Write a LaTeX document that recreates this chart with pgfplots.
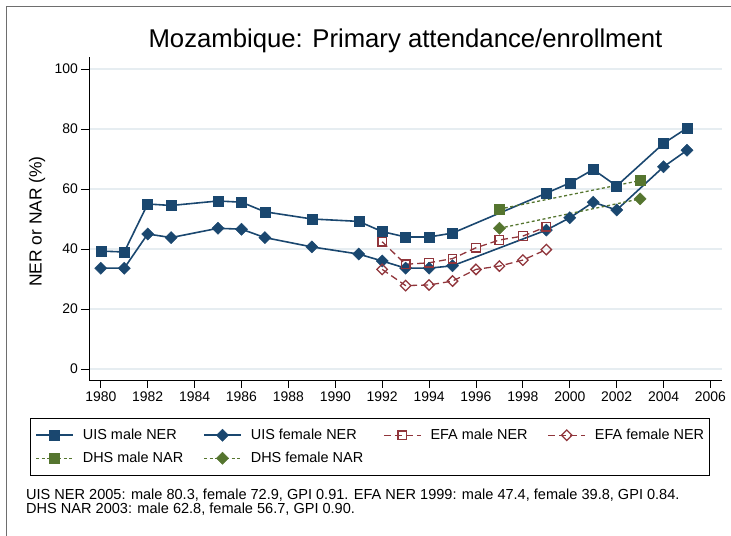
\documentclass[border=0pt]{standalone}
\usepackage{fontspec}
\setmainfont{Liberation Sans}
\usepackage{pgfplots}
\pgfplotsset{compat=1.18}
\definecolor{snavy}{RGB}{26,71,111}
\definecolor{smaroon}{RGB}{144,53,59}
\definecolor{sgreen}{RGB}{85,117,47}
\definecolor{sgrid}{RGB}{230,237,241}
\definecolor{sframe}{RGB}{110,110,110}
\begin{document}
\begin{tikzpicture}[x=1bp,y=1bp]
\useasboundingbox (0,0) rectangle (731,536);
\draw[sframe, line width=0.9bp] (6,0) -- (6,530) -- (731,530);
\begin{axis}[
  at={(89.3bp,156bp)}, anchor=south west,
  width=632.4bp, height=323.3bp, scale only axis,
  xmin=1979.51, xmax=2006.48, ymin=-3.67, ymax=104.1,
  axis x line=bottom, axis y line=left,
  axis line style={-, black, line width=0.8bp},
  tick align=outside, major tick length=8bp,
  tick style={black, line width=0.8bp},
  xtick={1980,1982,...,2006}, ytick={0,20,...,100},
  ymajorgrids, major grid style={sgrid, line width=1.1bp},
  /pgf/number format/.cd, assume math mode=true, 1000 sep={},
  /pgfplots/.cd,
  tick label style={font=\fontsize{14}{14}\selectfont},
  ylabel={NER or NAR (\%)},
  ylabel style={at={(axis description cs:-0.0827,0.49)}, anchor=center, font=\fontsize{17.5}{17.5}\selectfont},
  legend columns=4,
  legend cell align=left,
  legend style={at={(axis description cs:-0.0938,-0.1175)}, anchor=north west,
    draw=black, line width=0.6bp,
    font=\fontsize{14.5}{14.5}\selectfont,
    inner xsep=5bp, inner ysep=10bp, row sep=9bp,
    nodes={inner xsep=0bp, inner ysep=1bp},
    /tikz/every odd column/.append style={column sep=9bp},
    /tikz/every even column/.append style={column sep=20bp}},
  legend image code/.code={\draw[mark repeat=2,mark phase=2,#1] plot coordinates {(0bp,0bp) (18.5bp,0bp) (37bp,0bp)};},
]
\addplot[snavy, line width=1.6bp, mark=square*, mark size=5bp,
  mark options={solid, fill=snavy, draw=snavy, line width=0.4bp}]
  coordinates {(1980,39.3) (1981,39.0) (1982,55.0) (1983,54.5) (1985,56.0) (1986,55.6) (1987,52.4)
  (1989,50.0) (1991,49.2) (1992,45.8) (1993,44.0) (1994,44.0) (1995,45.3) (1999,58.6) (2000,62.0)
  (2001,66.5) (2002,61.0) (2004,75.2) (2005,80.3)};
\addlegendentry{UIS male NER}
\addplot[snavy, line width=1.6bp, mark=square*, mark size=4.3bp,
  mark options={solid, rotate=45, fill=snavy, draw=snavy, line width=0.4bp}]
  coordinates {(1980,33.6) (1981,33.6) (1982,45.0) (1983,43.8) (1985,46.9) (1986,46.6) (1987,43.8)
  (1989,40.7) (1991,38.3) (1992,36.0) (1993,33.6) (1994,33.6) (1995,34.4) (1999,46.3) (2000,50.4)
  (2001,55.6) (2002,53.0) (2004,67.4) (2005,72.9)};
\addlegendentry{UIS female NER}
\addplot[smaroon, line width=1.3bp, dash pattern=on 7bp off 4bp, mark=square, mark size=4.3bp,
  mark options={solid, draw=smaroon, line width=1.3bp}]
  coordinates {(1992,42.4) (1993,34.9) (1994,35.4) (1995,36.8) (1996,40.4) (1997,43.0) (1998,44.3) (1999,47.4)};
\addlegendentry{EFA male NER}
\addplot[smaroon, line width=1.3bp, dash pattern=on 7bp off 4bp, mark=square, mark size=3.7bp,
  mark options={solid, rotate=45, draw=smaroon, line width=1.3bp}]
  coordinates {(1992,33.2) (1993,27.8) (1994,28.0) (1995,29.3) (1996,33.2) (1997,34.3) (1998,36.3) (1999,39.8)};
\addlegendentry{EFA female NER}
\addplot[sgreen, line width=1.3bp, dash pattern=on 3bp off 2.5bp, mark=square*, mark size=5bp,
  mark options={solid, fill=sgreen, draw=sgreen, line width=0.4bp}]
  coordinates {(1997,53.3) (2003,62.8)};
\addlegendentry{DHS male NAR}
\addplot[sgreen, line width=1.3bp, dash pattern=on 3bp off 2.5bp, mark=square*, mark size=4.3bp,
  mark options={solid, rotate=45, fill=sgreen, draw=sgreen, line width=0.4bp}]
  coordinates {(1997,46.9) (2003,56.7)};
\addlegendentry{DHS female NAR}
\end{axis}
\node[anchor=base, font=\fontsize{25.8}{25.8}\selectfont, inner sep=0] at (405.5,488) {Mozambique: Primary attendance/enrollment};
\node[anchor=base west, font=\fontsize{14.6}{14.6}\selectfont, inner sep=0] at (26,36.5) {UIS NER 2005: male 80.3, female 72.9, GPI 0.91. EFA NER 1999: male 47.4, female 39.8, GPI 0.84.};
\node[anchor=base west, font=\fontsize{14.6}{14.6}\selectfont, inner sep=0] at (26,22.5) {DHS NAR 2003: male 62.8, female 56.7, GPI 0.90.};
\end{tikzpicture}
\end{document}
